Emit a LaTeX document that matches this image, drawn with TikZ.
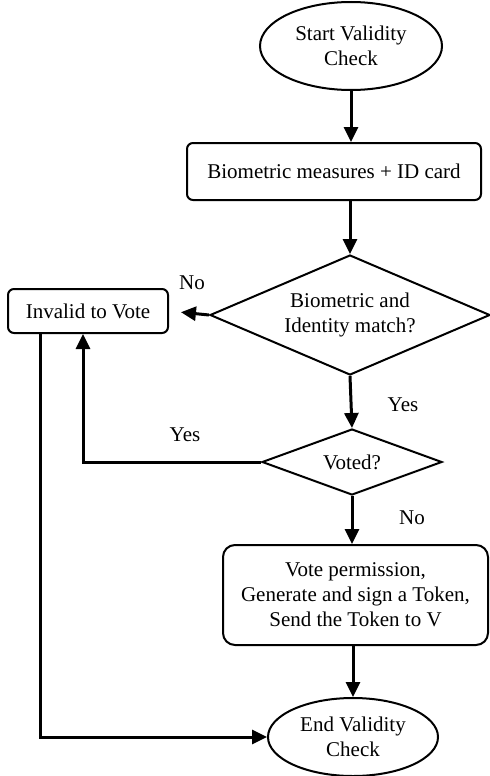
\documentclass[tikz,border=0pt]{standalone}
\usepackage{fontspec}
\setmainfont{Liberation Serif}
\usetikzlibrary{positioning,shapes.geometric,arrows.meta}

\tikzset{
    flow/.style={line width=1.5pt, -{Triangle[length=7.5pt,width=7pt]}},
    plain/.style={line width=1.5pt},
    procbox/.style={draw, line width=1pt, rounded corners=3pt, align=center, inner sep=0pt},
    termnode/.style={draw, ellipse, line width=1pt, align=center, inner sep=0pt},
    decide/.style={draw, diamond, line width=1pt, align=center, inner sep=0pt},
}

\begin{document}
\begin{tikzpicture}[x=0.5pt, y=-0.5pt, font=\fontsize{10.5}{12.5}\selectfont]
    \useasboundingbox (0,0) rectangle (489,776);

    \node[termnode, minimum width=91pt, minimum height=44pt] (start) at (351,46) {Start Validity\\Check};
    \node[procbox, minimum width=147pt, minimum height=28.5pt] (measure) at (334,171.5) {Biometric measures + ID card};
    \node[decide, minimum width=140pt, minimum height=60pt, aspect=2.33] (match) at (350,315) {Biometric and\\Identity match?};
    \node[procbox, minimum width=80pt, minimum height=22pt] (invalid) at (88,311) {Invalid to Vote};
    \node[decide, minimum width=90pt, minimum height=33pt, aspect=2.7] (voted) at (352,462) {Voted?};
    \node[procbox, rounded corners=6pt, minimum width=132.5pt, minimum height=50pt] (permit) at (355.5,595) {Vote permission,\\Generate and sign a Token,\\Send the Token to V};
    \node[termnode, minimum width=85pt, minimum height=39pt] (finish) at (353,737) {End Validity\\Check};

    \draw[flow] (start) -- (start |- measure.north);
    \draw[flow] (match.north |- measure.south) -- (match.north);
    \draw[flow, shorten >=6pt] (match.west) -- (invalid.east);
    \draw[flow] (match.south) -- (voted.north);
    \draw[flow] (voted.west) -| ([xshift=-2.5pt]invalid.south);
    \draw[flow] (voted.south) -- (voted.south |- permit.north);
    \draw[flow] (finish.north |- permit.south) -- (finish.north);
    \draw[flow] ([xshift=-24pt]invalid.south) |- (finish.west);

    \node at (192,283) {No};
    \node at (403,405) {Yes};
    \node at (185,435) {Yes};
    \node at (412,518) {No};
\end{tikzpicture}
\end{document}
